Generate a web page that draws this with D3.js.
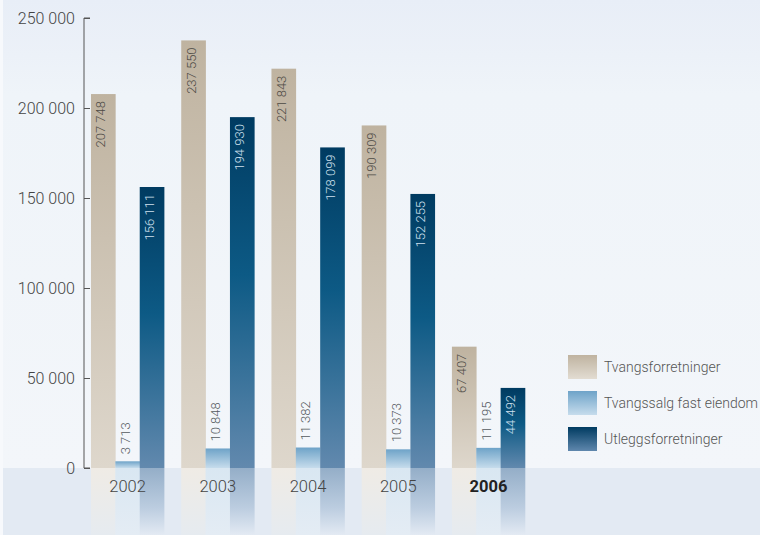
<!DOCTYPE html>
<html>
<head>
<meta charset="utf-8">
<script src="https://cdn.jsdelivr.net/npm/d3@7/dist/d3.min.js"></script>
<style>
  html, body { margin: 0; padding: 0; background: #eef3f8; }
  svg { display: block; }
  text { font-family: Roboto, "Noto Sans", sans-serif; }
</style>
</head>
<body>
<script>
// Yearly case counts per category
const years = ["2002", "2003", "2004", "2005", "2006"];
const seriesNames = ["Tvangsforretninger", "Tvangssalg fast eiendom", "Utleggsforretninger"];
const tvangsforretninger = [207748, 237550, 221843, 190309, 67407];
const tvangssalg = [3713, 10848, 11382, 10373, 11195];
const utleggsforretninger = [156111, 194930, 178099, 152255, 44492];
const yTicks = [0, 50000, 100000, 150000, 200000, 250000];

const W = 760, H = 535;
const baseY = 468;

const svg = d3.select("body").append("svg").attr("width", W).attr("height", H);
const defs = svg.append("defs");

function vGrad(id, stops) {
  const g = defs.append("linearGradient").attr("id", id)
    .attr("x1", 0).attr("y1", 0).attr("x2", 0).attr("y2", 1);
  stops.forEach(([o, c, a]) => g.append("stop").attr("offset", o).attr("stop-color", c)
    .attr("stop-opacity", a == null ? 1 : a));
}
vGrad("bgGrad", [[0, "#e8eef7"], [0.12, "#ecf1f8"], [0.2, "#eff4f9"], [1, "#f3f6fa"]]);
vGrad("tanGrad", [[0, "#bfb3a0"], [1, "#ded7cc"]]);
vGrad("lightGrad", [[0, "#6ea3c8"], [1, "#c6dcec"]]);
vGrad("darkGrad", [[0, "#003b61"], [0.45, "#0d5a85"], [1, "#6289ae"]]);
vGrad("tanRefl", [[0, "#efebe5"], [1, "#e6ebf0"]]);
vGrad("lightRefl", [[0, "#d9e7f2"], [1, "#e4ecf4"]]);
vGrad("darkRefl", [[0, "#94aec8"], [0.6, "#bccde0"], [1, "#e3eaf3"]]);
vGrad("tanLeg", [[0, "#bfb3a0"], [1, "#e2dcd2"]]);
vGrad("lightLeg", [[0, "#6ea3c8"], [1, "#c6dcec"]]);
vGrad("darkLeg", [[0, "#003b61"], [1, "#5f87ad"]]);

// Backdrop and the band under the baseline
svg.append("rect").attr("width", W).attr("height", baseY).attr("fill", "url(#bgGrad)");
svg.append("rect").attr("y", baseY).attr("width", W).attr("height", H - baseY).attr("fill", "#e3eaf3");
svg.append("rect").attr("width", 3).attr("height", H).attr("fill", "#f7f9fc");

const y = d3.scaleLinear().domain([0, 250000]).range([baseY, 18]);
const x0 = d3.scaleBand().domain(years).range([91, 525]).paddingInner(0.19).paddingOuter(0);
const x1 = d3.scaleBand().domain(seriesNames).range([0, x0.bandwidth()]).padding(0);

const seriesValues = [tvangsforretninger, tvangssalg, utleggsforretninger];
const fills = ["url(#tanGrad)", "url(#lightGrad)", "url(#darkGrad)"];
const refl = ["url(#tanRefl)", "url(#lightRefl)", "url(#darkRefl)"];
const labelColors = ["#4d4a45", "#555a60", "#cfe0ee"];

const data = [];
years.forEach((yr, i) => seriesNames.forEach((s, k) => {
  data.push({ year: yr, series: s, k, value: seriesValues[k][i] });
}));

// Reflections below the baseline
svg.append("g").selectAll("rect").data(data).join("rect")
  .attr("x", d => x0(d.year) + x1(d.series))
  .attr("y", baseY)
  .attr("width", x1.bandwidth() + 0.3)
  .attr("height", H - baseY)
  .attr("fill", d => refl[d.k]);

// Bars
svg.append("g").selectAll("rect").data(data).join("rect")
  .attr("x", d => x0(d.year) + x1(d.series))
  .attr("y", d => y(d.value))
  .attr("width", x1.bandwidth() + 0.3)
  .attr("height", d => baseY - y(d.value))
  .attr("fill", d => fills[d.k]);

// Value labels, rotated
const fmt = v => d3.format(",")(v).replace(/,/g, " ");
svg.append("g").selectAll("text").data(data).join("text")
  .attr("transform", d => {
    const cx = x0(d.year) + x1(d.series) + x1.bandwidth() / 2 + 2.3;
    const ty = d.k === 1 ? y(d.value) - 7 : y(d.value) + 7;
    return `translate(${cx},${ty}) rotate(-90)`;
  })
  .attr("text-anchor", d => d.k === 1 ? "start" : "end")
  .attr("font-size", 13)
  .attr("font-weight", 300)
  .attr("fill", d => labelColors[d.k])
  .text(d => fmt(d.value));

// Y axis
const axis = svg.append("g").attr("transform", "translate(84,0)")
  .call(d3.axisRight(y).tickValues(yTicks).tickSize(6).tickFormat(""));
axis.select(".domain").attr("stroke", "#555").attr("d", `M6,${y(0)}H0V${y(250000)}H6`);
axis.selectAll(".tick line").attr("stroke", "#555");
svg.append("g").selectAll("text").data(yTicks).join("text")
  .attr("x", 75).attr("y", d => y(d)).attr("dy", "0.36em")
  .attr("text-anchor", "end").attr("font-size", 16).attr("font-weight", 300)
  .attr("fill", "#444").text(d => fmt(d));

// Year labels
svg.append("g").selectAll("text").data(years).join("text")
  .attr("x", d => x0(d) + x0.bandwidth() / 2).attr("y", 492)
  .attr("text-anchor", "middle").attr("font-size", 16.5)
  .attr("font-weight", d => d === "2006" ? 700 : 300)
  .attr("fill", d => d === "2006" ? "#222" : "#444")
  .text(d => d);

// Legend
const legFills = ["url(#tanLeg)", "url(#lightLeg)", "url(#darkLeg)"];
const leg = svg.append("g").selectAll("g").data(seriesNames).join("g")
  .attr("transform", (d, i) => `translate(568,${355 + i * 36})`);
leg.append("rect").attr("width", 29).attr("height", 24).attr("fill", (d, i) => legFills[i]);
leg.append("text").attr("x", 36).attr("y", 17).attr("font-size", 14).attr("font-weight", 300)
  .attr("fill", "#555").text(d => d);
</script>
</body>
</html>
